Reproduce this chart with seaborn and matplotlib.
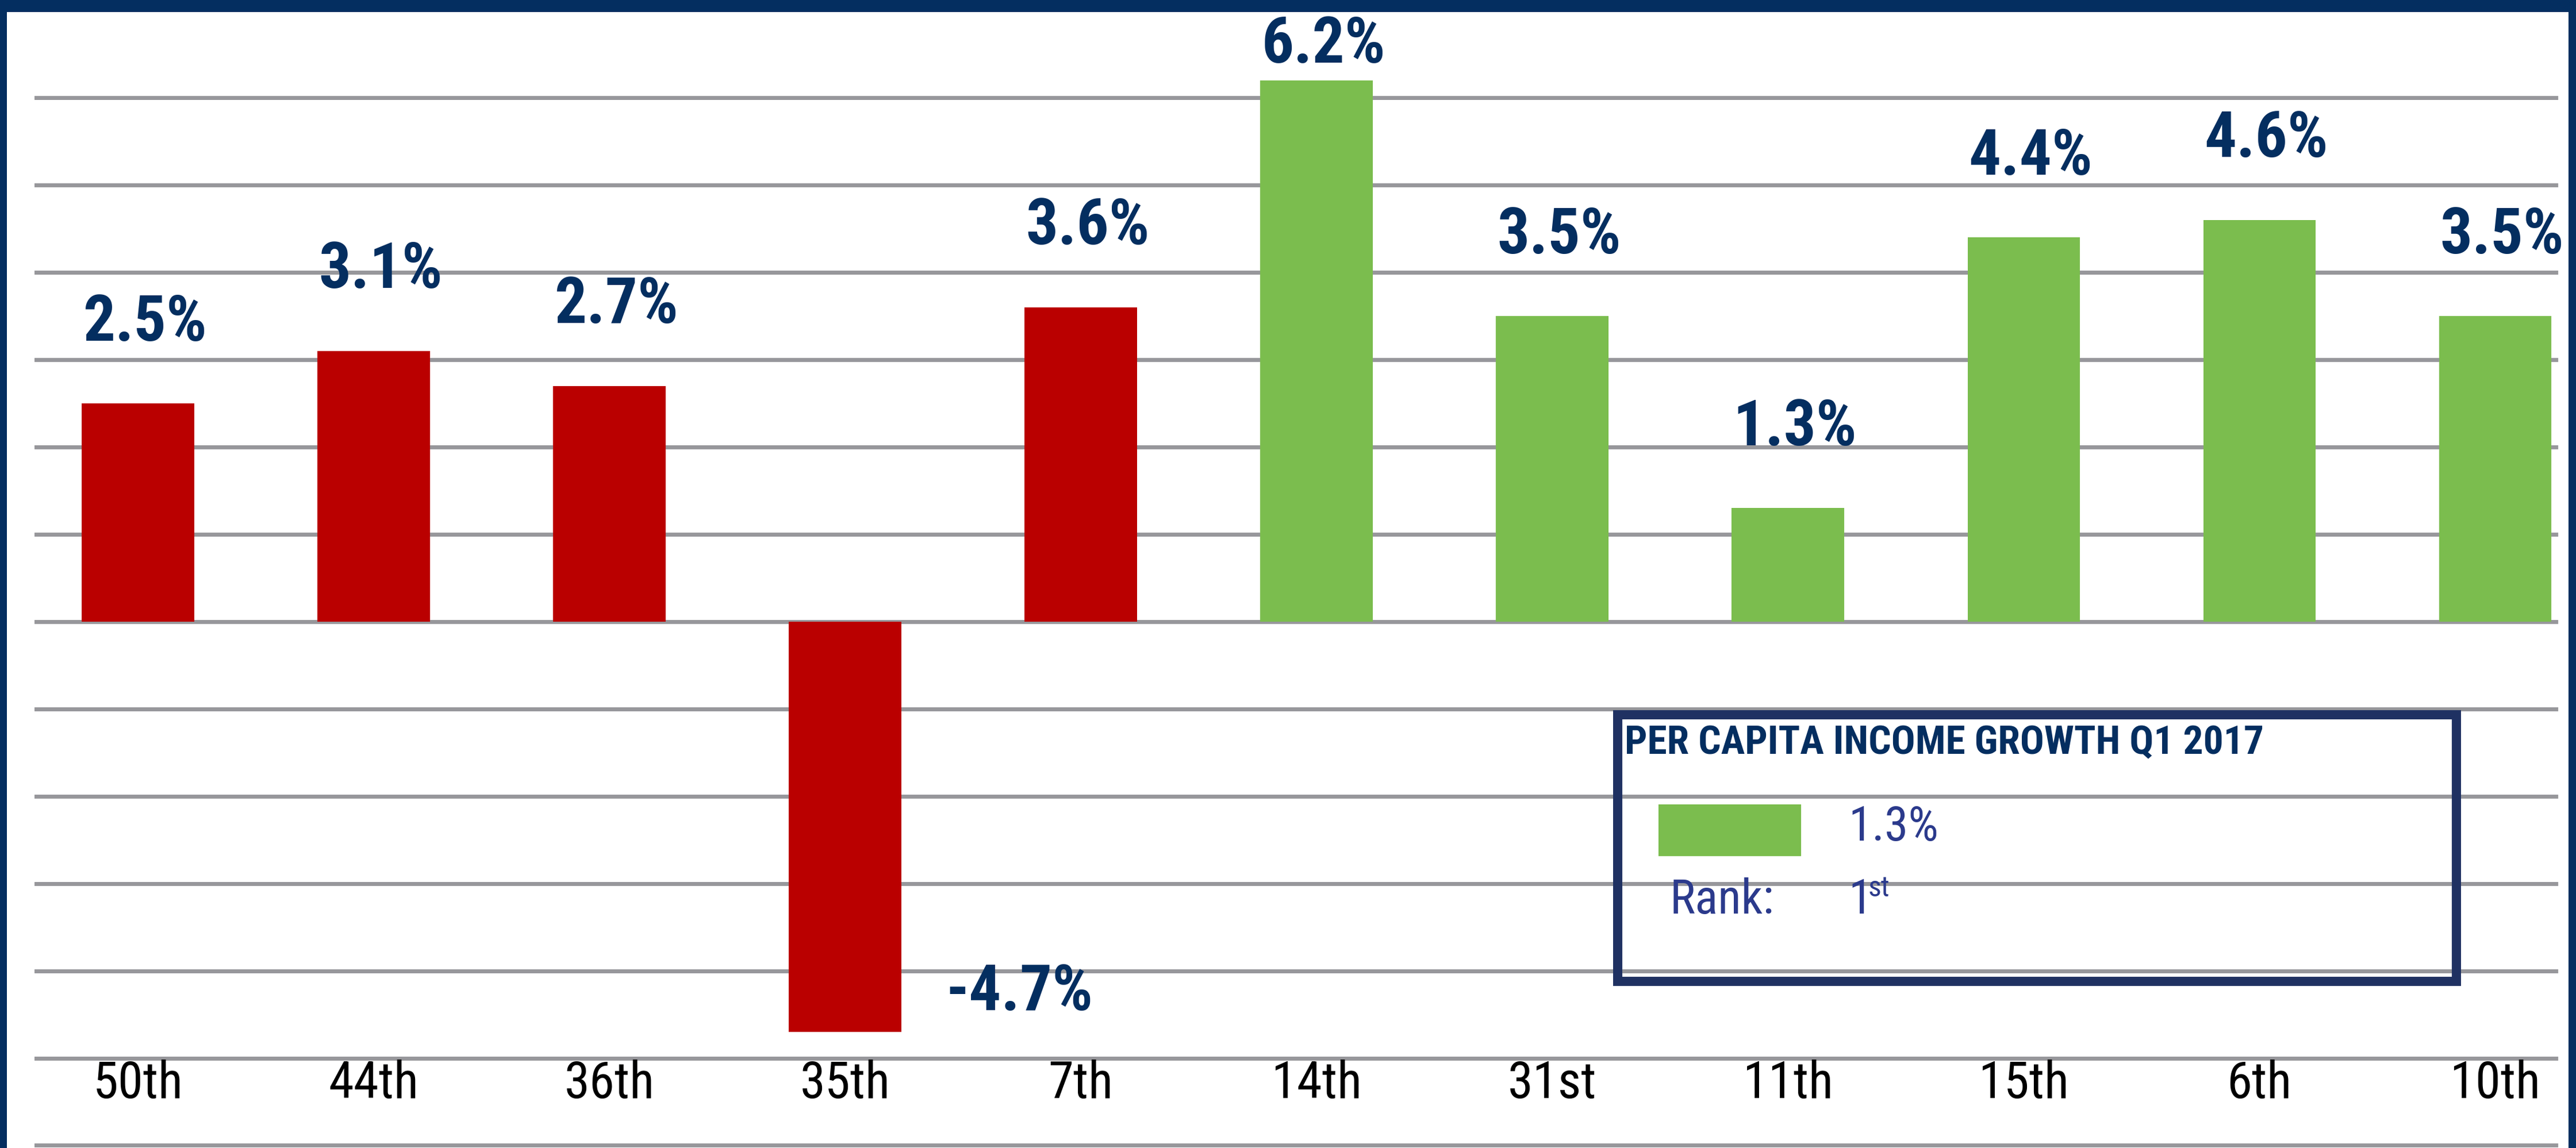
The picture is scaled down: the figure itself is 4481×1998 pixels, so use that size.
import matplotlib
matplotlib.use("Agg")
import matplotlib.pyplot as plt
from matplotlib.patches import Rectangle
import pandas as pd
import seaborn as sns

# chart data
ranks = ['50th', '44th', '36th', '35th', '7th', '14th', '31st', '11th', '15th', '6th', '10th']
growth = [2.5, 3.1, 2.7, -4.7, 3.6, 6.2, 3.5, 1.3, 4.4, 4.6, 3.5]
group = ['A', 'A', 'A', 'A', 'A', 'B', 'B', 'B', 'B', 'B', 'B']

legend_title = 'PER CAPITA INCOME GROWTH Q1 2017'
legend_value = '1.3%'
legend_rank = '1'
legend_suffix = 'st'

RED = '#ba0000'
GREEN = '#7bbd4e'
NAVY = '#042e60'
GRID = '#97979b'
BOX = '#1f3162'
BLUE = '#2b3a8c'

sns.set_style('white')
# condensed face if there is one, plain sans otherwise
plt.rcParams['font.family'] = ['Roboto Condensed', 'Liberation Sans Narrow',
                               'Liberation Sans', 'DejaVu Sans']

df = pd.DataFrame({'rank': ranks, 'growth': growth, 'group': group})

W, H = 4481, 1998
fig = plt.figure(figsize=(W / 100, H / 100), dpi=100)
ax = fig.add_axes([60 / W, 0, (4450 - 60) / W, 1])

sns.barplot(data=df, x='rank', y='growth', hue='group', order=ranks,
            palette={'A': RED, 'B': GREEN}, width=0.476, saturation=1,
            errorbar=None, legend=False, linewidth=0, ax=ax)

ax.set_xlim(-0.439, 10.268)
ax.set_ylim(-6.03, 7.12)
ax.set_yticks(range(-6, 7))
ax.yaxis.grid(True, color=GRID, linewidth=5)
ax.xaxis.grid(False)
ax.set_axisbelow(True)
ax.tick_params(left=False, bottom=False, labelleft=False, labelbottom=False)
ax.set_xlabel('')
ax.set_ylabel('')
for s in ax.spines.values():
    s.set_visible(False)

# value labels and rank labels
for i, (r, v) in enumerate(zip(ranks, growth)):
    if v >= 0:
        ax.text(i + 0.03, min(v + 0.72, 6.4), f'{v:.1f}%', ha='center', va='baseline',
                fontsize=80, fontweight='bold', color=NAVY)
    else:
        ax.text(i + 0.74, v + 0.25, f'{v:.1f}%', ha='center', va='baseline',
                fontsize=80, fontweight='bold', color=NAVY)
    ax.text(i, -5.46, r, ha='center', va='baseline', fontsize=64, color='black')


# legend box, placed in figure pixels
def fx(px):
    return px / W


def fy(py):
    return 1 - py / H


fig.patches.append(Rectangle((fx(2814), fy(1708)), fx(4273) - fx(2814), fy(1244) - fy(1708),
                             transform=fig.transFigure, fill=False, edgecolor=BOX, linewidth=11.5))
fig.patches.append(Rectangle((fx(2885), fy(1490)), fx(3133) - fx(2885), fy(1400) - fy(1490),
                             transform=fig.transFigure, facecolor=GREEN, edgecolor='none'))
fig.text(fx(2826), fy(1312), legend_title, ha='left', va='baseline', fontsize=50,
         fontweight='bold', color=NAVY)
fig.text(fx(3215), fy(1463), legend_value, ha='left', va='baseline', fontsize=60, color=BLUE)
fig.text(fx(2905), fy(1590), 'Rank:', ha='left', va='baseline', fontsize=60, color=BLUE)
fig.text(fx(3215), fy(1590), legend_rank, ha='left', va='baseline', fontsize=60, color=BLUE)
fig.text(fx(3250), fy(1560), legend_suffix, ha='left', va='baseline', fontsize=36, color=BLUE)

# frame
fig.patches.append(Rectangle((0, fy(21)), 1, 21 / H, transform=fig.transFigure,
                             facecolor=NAVY, edgecolor='none'))
fig.patches.append(Rectangle((0, 0), 12 / W, 1, transform=fig.transFigure,
                             facecolor=NAVY, edgecolor='none'))
fig.patches.append(Rectangle((1 - 13 / W, 0), 13 / W, 1, transform=fig.transFigure,
                             facecolor=NAVY, edgecolor='none'))

fig.savefig('out.png', dpi=100, facecolor='white')
